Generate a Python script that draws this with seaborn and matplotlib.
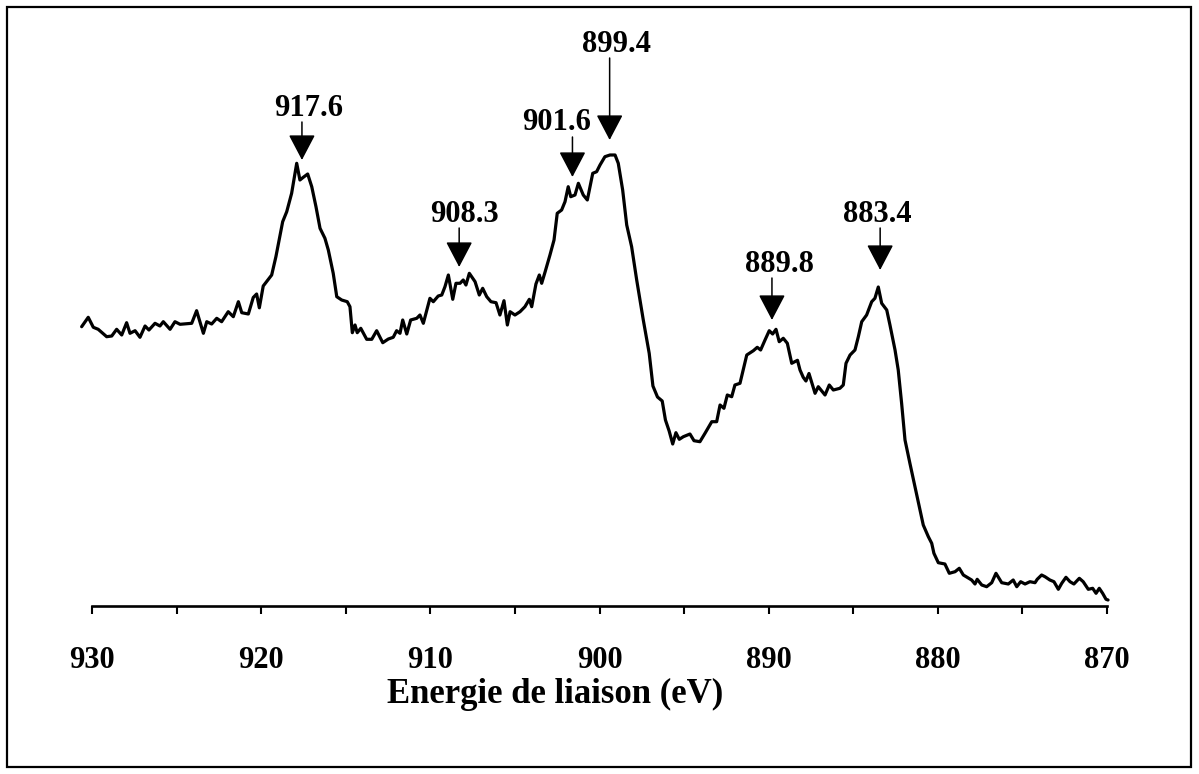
import numpy as np
import pandas as pd
import matplotlib
matplotlib.use("Agg")
import matplotlib.pyplot as plt
from matplotlib.patches import Rectangle
from matplotlib.ticker import MultipleLocator
import seaborn as sns

# ---- data (binding energy in eV, intensity in arbitrary units) ----
energy = [
    930.63, 930.24, 929.94, 929.65, 929.15, 928.85, 928.56, 928.26, 927.97, 927.77,
    927.47, 927.18, 926.88, 926.65, 926.29, 926.00, 925.80, 925.40, 925.11, 924.81,
    924.12, 923.83, 923.43, 923.23, 922.94, 922.64, 922.35, 921.96, 921.66, 921.36,
    921.16, 920.77, 920.48, 920.28, 920.12, 919.89, 919.39, 919.14, 918.74, 918.50,
    918.21, 917.91, 917.72, 917.52, 917.26, 917.02, 916.77, 916.53, 916.24, 916.04,
    915.75, 915.54, 915.25, 914.92, 914.76, 914.62, 914.46, 914.33, 914.12, 913.77,
    913.47, 913.18, 912.82, 912.49, 912.20, 912.00, 911.80, 911.64, 911.40, 911.17,
    910.81, 910.62, 910.42, 910.03, 909.83, 909.54, 909.33, 909.14, 908.94, 908.68,
    908.49, 908.25, 908.06, 907.90, 907.70, 907.36, 907.11, 906.91, 906.67, 906.42,
    906.12, 905.89, 905.65, 905.45, 905.29, 905.00, 904.70, 904.41, 904.15, 904.01,
    903.76, 903.56, 903.42, 903.22, 902.93, 902.69, 902.50, 902.24, 902.04, 901.85,
    901.70, 901.45, 901.25, 900.96, 900.72, 900.40, 900.17, 899.97, 899.68, 899.38,
    899.08, 898.89, 898.63, 898.39, 898.10, 897.80, 897.41, 897.06, 896.84, 896.57,
    896.29, 896.10, 895.88, 895.67, 895.48, 895.28, 895.04, 894.65, 894.41, 894.06,
    893.76, 893.36, 893.07, 892.87, 892.64, 892.44, 892.18, 891.99, 891.69, 891.29,
    890.90, 890.67, 890.47, 890.21, 889.96, 889.76, 889.56, 889.37, 889.13, 888.89,
    888.63, 888.29, 888.14, 887.95, 887.79, 887.61, 887.25, 887.06, 886.66, 886.41,
    886.17, 885.78, 885.58, 885.42, 885.18, 884.89, 884.69, 884.49, 884.20, 883.90,
    883.71, 883.51, 883.31, 883.01, 882.82, 882.52, 882.33, 882.13, 881.93, 881.64,
    881.34, 881.04, 880.85, 880.55, 880.35, 880.22, 879.96, 879.57, 879.31, 878.97,
    878.72, 878.48, 878.25, 877.99, 877.79, 877.66, 877.39, 877.10, 876.80, 876.55,
    876.21, 875.82, 875.53, 875.32, 875.09, 874.83, 874.54, 874.24, 874.11, 873.85,
    873.65, 873.36, 873.12, 872.86, 872.66, 872.41, 872.17, 871.94, 871.62, 871.39,
    871.09, 870.83, 870.63, 870.44, 870.24, 870.04, 869.92,
]
intensity = [
    279.3, 288.7, 278.7, 276.7, 269.3, 270.0, 276.7, 271.0, 283.3, 272.7,
    275.3, 268.7, 280.0, 276.0, 282.7, 280.0, 284.3, 276.7, 284.3, 281.7,
    282.7, 295.3, 272.7, 284.3, 282.0, 287.7, 284.3, 294.3, 289.3, 304.3,
    293.3, 292.0, 308.5, 312.0, 298.2, 320.0, 331.0, 349.3, 384.3, 394.3,
    412.7, 442.7, 426.0, 428.7, 432.0, 419.3, 399.3, 377.7, 367.7, 356.0,
    332.7, 309.3, 306.0, 304.3, 299.3, 273.3, 281.0, 273.3, 277.7, 266.7,
    266.7, 275.3, 263.3, 267.0, 268.7, 275.3, 272.7, 286.0, 272.0, 286.0,
    287.7, 291.0, 282.7, 307.7, 304.3, 310.0, 311.0, 319.3, 331.0, 306.7,
    322.7, 322.7, 326.0, 321.0, 332.7, 324.3, 311.0, 317.7, 309.3, 304.3,
    303.3, 291.0, 305.3, 281.0, 294.3, 291.0, 294.3, 299.3, 306.7, 299.3,
    322.0, 331.0, 322.7, 334.0, 351.0, 366.0, 392.7, 396.0, 404.3, 419.3,
    409.3, 411.0, 422.7, 411.0, 406.0, 432.7, 434.3, 441.0, 449.3, 451.0,
    451.0, 442.7, 416.0, 381.0, 359.3, 326.0, 286.0, 252.7, 220.0, 209.0,
    205.0, 186.0, 175.0, 162.0, 173.3, 166.7, 169.3, 172.0, 165.3, 164.3,
    172.7, 184.3, 184.3, 201.0, 197.7, 211.0, 209.3, 221.0, 222.7, 251.0,
    255.3, 258.7, 256.0, 266.0, 275.3, 272.0, 276.7, 264.3, 267.7, 262.7,
    242.7, 245.7, 236.0, 228.7, 225.0, 232.5, 212.7, 219.3, 211.0, 221.0,
    216.0, 217.7, 221.0, 242.7, 251.0, 256.0, 269.3, 284.3, 291.0, 304.3,
    307.7, 319.0, 302.7, 296.0, 281.0, 256.0, 236.0, 202.7, 166.0, 142.7,
    119.3, 96.0, 81.0, 69.3, 62.7, 52.7, 43.3, 42.0, 32.7, 34.3,
    37.7, 31.0, 28.7, 26.0, 22.0, 26.7, 21.0, 19.3, 23.3, 32.7,
    23.3, 22.0, 26.0, 19.3, 24.3, 22.0, 24.3, 23.3, 26.7, 31.0,
    29.3, 26.0, 24.3, 16.7, 22.7, 28.7, 24.3, 22.0, 27.7, 24.3,
    16.7, 17.7, 12.7, 17.7, 12.7, 6.7, 6.0,
]

peak_labels = ["917.6", "908.3", "901.6", "899.4", "889.8", "883.4"]
peak_energy = [917.6, 908.3, 901.6, 899.4, 889.8, 883.4]
peak_tip = [446, 339, 429, 466, 286, 336]          # arrow tip height (a.u.)
arrow_len_px = [38, 39, 40, 82, 42, 42]              # arrow length above tip
label_dx_px = [7, 5, -16, 7, 7, -3]                  # label offset from arrow
xtick_values = [930, 920, 910, 900, 890, 880, 870]
xlabel_text = "Energie de liaison (eV)"

# ---- figure ----
sns.set_theme(style="white")
plt.rcParams["font.family"] = ["Liberation Serif", "DejaVu Serif"]
plt.rcParams["font.weight"] = "bold"
plt.rcParams["text.color"] = "black"
plt.rcParams["axes.labelcolor"] = "black"
plt.rcParams["xtick.color"] = "black"
plt.rcParams["xtick.labelcolor"] = "black"

W, H = 1199, 774
fig = plt.figure(figsize=(W / 100, H / 100), dpi=100)
fig.patch.set_facecolor("white")
ax = fig.add_axes([92.3 / W, 168 / H, 1014.4 / W, 576 / H])
ax.set_facecolor("white")

df = pd.DataFrame({"energy": energy, "intensity": intensity})
sns.lineplot(data=df, x="energy", y="intensity", sort=False, ax=ax,
             color="black", lw=2.3, estimator=None)
for ln in ax.get_lines():
    ln.set_clip_on(False)

ax.set_xlim(930, 870)
ax.set_ylim(0, 576)

for s in ["left", "right", "top"]:
    ax.spines[s].set_visible(False)
ax.spines["bottom"].set_linewidth(1.9)
ax.spines["bottom"].set_color("black")
ax.set_yticks([])
ax.set_ylabel("")

ax.set_xticks(xtick_values)
ax.set_xticklabels([str(v) for v in xtick_values])
ax.xaxis.set_minor_locator(MultipleLocator(5))
ax.tick_params(axis="x", which="both", direction="out", length=6, width=1.5,
               color="black", bottom=True)
ax.tick_params(axis="x", which="major", pad=23, labelsize=22,
               labelcolor="black")
for lab in ax.get_xticklabels():
    lab.set_fontweight("bold")
    lab.set_color("black")

ax.set_xlabel(xlabel_text, fontsize=25, fontweight="bold", color="black")
ax.xaxis.set_label_coords(0.456, -0.153)
ax.xaxis.label.set_va("center")

px2pt = 72 / 100
for lab, e, tip, L, dx in zip(peak_labels, peak_energy, peak_tip,
                              arrow_len_px, label_dx_px):
    ax.annotate("", xy=(e, tip), xycoords="data",
                xytext=(0, L * px2pt), textcoords="offset points",
                arrowprops=dict(arrowstyle="-|>,head_length=0.8,head_width=0.42",
                                mutation_scale=20, lw=1.1, color="black",
                                shrinkA=0, shrinkB=0))
    ax.annotate(lab, xy=(e, tip), xycoords="data",
                xytext=(dx * px2pt, (L + 14) * px2pt), textcoords="offset points",
                ha="center", va="center", fontsize=22, fontweight="bold",
                color="black", annotation_clip=False)

fig.add_artist(Rectangle((7 / W, 7 / H), (1191 - 7) / W, (767 - 7) / H,
                         transform=fig.transFigure, fill=False,
                         lw=1.6, edgecolor="black"))

fig.savefig("out.png", dpi=100, facecolor="white")
